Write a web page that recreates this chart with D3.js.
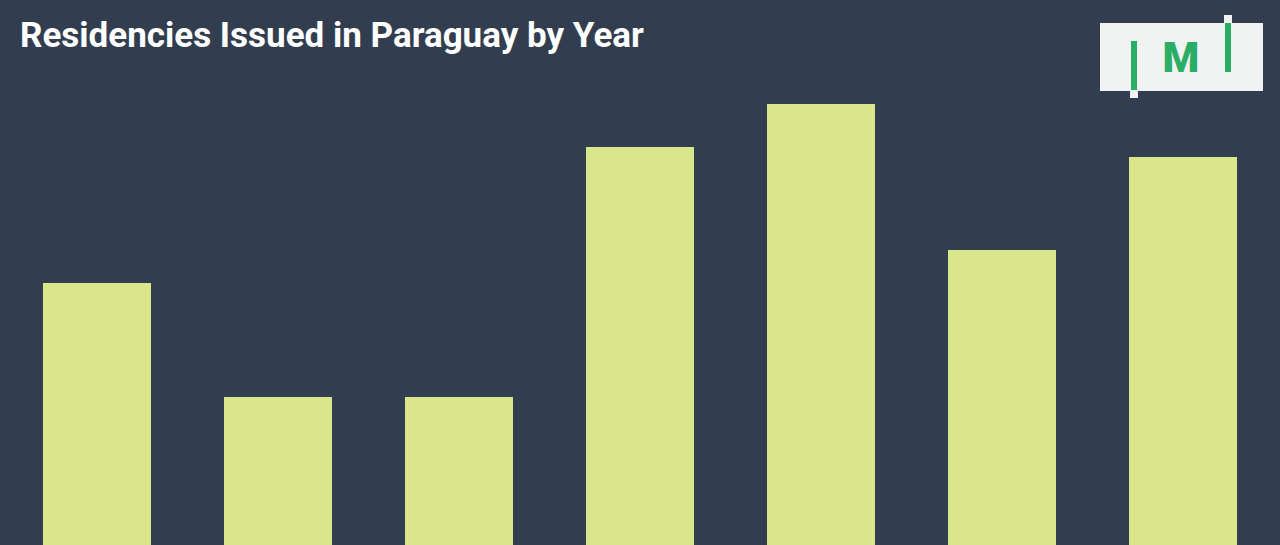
<!DOCTYPE html>
<html>
<head>
<meta charset="utf-8">
<script src="https://cdn.jsdelivr.net/npm/d3@7"></script>
<style>
  body { margin: 0; background: #323e4f; overflow: hidden; }
  svg { display: block; }
</style>
</head>
<body>
<svg></svg>
<script>
var width = 1280;
var height = 545;

// values (bar heights, arbitrary units; axis not shown)
var years = ["2016", "2017", "2018", "2019", "2020", "2021", "2022"];
var residencies = [262, 148, 148, 398, 441, 295, 388];

var svg = d3.select("svg")
            .attr("width", width)
            .attr("height", height);

svg.append("rect")
   .attr("width", width)
   .attr("height", height)
   .attr("fill", "#323e4f");

var xScale = d3.scaleBand()
               .domain(years)
               .range([43, 1237])
               .paddingInner(0.4033)
               .paddingOuter(0);

var yScale = d3.scaleLinear()
               .domain([0, 500])
               .range([height, 45]);

svg.selectAll(".bar")
  .data(years)
  .enter()
  .append("rect")
  .attr("class", "bar")
  .attr("x", function(d) { return xScale(d); })
  .attr("y", function(d, i) { return yScale(residencies[i]); })
  .attr("width", xScale.bandwidth())
  .attr("height", function(d, i) { return yScale(0) - yScale(residencies[i]); })
  .attr("fill", "#d9e68a");

svg.append("text")
   .attr("x", 20)
   .attr("y", 47)
   .attr("fill", "#ffffff")
   .attr("font-family", "Roboto, sans-serif")
   .attr("font-weight", "bold")
   .attr("font-size", 35)
   .text("Residencies Issued in Paraguay by Year");

// logo
var logo = svg.append("g");
logo.append("rect")
    .attr("x", 1100).attr("y", 23)
    .attr("width", 163).attr("height", 68)
    .attr("fill", "#f1f2f2");
logo.append("rect")
    .attr("x", 1131).attr("y", 41)
    .attr("width", 6).attr("height", 49)
    .attr("fill", "#2aad64");
logo.append("rect")
    .attr("x", 1130).attr("y", 90)
    .attr("width", 8).attr("height", 8)
    .attr("fill", "#f1f2f2");
logo.append("rect")
    .attr("x", 1225).attr("y", 23)
    .attr("width", 6).attr("height", 49)
    .attr("fill", "#2aad64");
logo.append("rect")
    .attr("x", 1224).attr("y", 15)
    .attr("width", 8).attr("height", 8)
    .attr("fill", "#f1f2f2");
logo.append("text")
    .attr("x", 1181)
    .attr("y", 72)
    .attr("text-anchor", "middle")
    .attr("fill", "#2aad64")
    .attr("font-family", "Roboto, sans-serif")
    .attr("font-weight", "900")
    .attr("font-size", 42)
    .text("M");
</script>
</body>
</html>
